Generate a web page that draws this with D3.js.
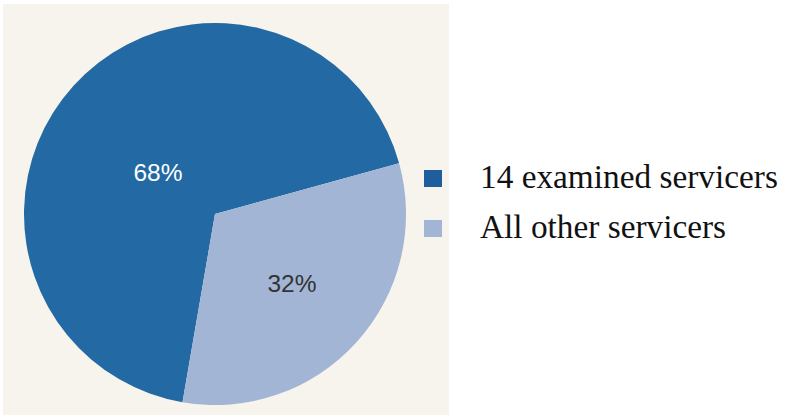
<!DOCTYPE html>
<html lang="en">
<head>
    <meta charset="UTF-8">
    <title>Share of servicers</title>
    <script src="https://d3js.org/d3.v7.min.js"></script>
    <style>
        body {
            margin: 0;
            padding: 0;
            background-color: #ffffff;
        }
        svg {
            display: block;
        }
    </style>
</head>
<body>
    <svg width="786" height="417"></svg>
    <script>
        // Chart data
        const categories = ["14 examined servicers", "All other servicers"];
        const values = [68, 32];
        const labels = ["68%", "32%"];
        const sliceColors = ["#2369a3", "#a3b5d5"];
        const swatchColors = ["#1f5e9c", "#a3b5d5"];
        const labelColors = ["#ffffff", "#333333"];

        const svg = d3.select("svg");

        // Beige panel behind the pie
        svg.append("rect")
            .attr("x", 3)
            .attr("y", 4)
            .attr("width", 446)
            .attr("height", 411)
            .attr("fill", "#f7f3ed");

        const cx = 215, cy = 214, radius = 191;
        const start = 189.8 * Math.PI / 180;

        const pie = d3.pie()
            .sort(null)
            .value(d => d)
            .startAngle(start)
            .endAngle(start + 2 * Math.PI);

        const arc = d3.arc().innerRadius(0).outerRadius(radius);

        const arcs = pie(values);
        const g = svg.append("g").attr("transform", `translate(${cx},${cy})`);

        g.selectAll("path")
            .data(arcs)
            .enter().append("path")
            .attr("d", arc)
            .attr("fill", (d, i) => sliceColors[i]);

        // Percentage labels
        const labelArc = d3.arc().innerRadius(radius * 0.62).outerRadius(radius * 0.62);
        g.selectAll(".pct")
            .data(arcs)
            .enter().append("text")
            .attr("class", "pct")
            .attr("x", (d, i) => i === 0 ? -57 : 77)
            .attr("y", (d, i) => i === 0 ? -33 : 78)
            .attr("text-anchor", "middle")
            .attr("font-family", "Arial, 'Liberation Sans', sans-serif")
            .attr("font-size", 24.5)
            .attr("fill", (d, i) => labelColors[i])
            .text((d, i) => labels[i]);

        // Legend
        const legend = svg.append("g").attr("transform", "translate(424,170)");
        const rows = legend.selectAll("g")
            .data(categories)
            .enter().append("g")
            .attr("transform", (d, i) => `translate(0,${i * 50})`);

        rows.append("rect")
            .attr("width", 18)
            .attr("height", 17)
            .attr("fill", (d, i) => swatchColors[i]);

        const txt = rows.append("text")
            .attr("x", 56)
            .attr("y", 18)
            .attr("font-family", "'Liberation Serif', 'DejaVu Serif', serif")
            .attr("font-size", 31)
            .attr("fill", "#111")
            .text(d => d);

        // scale legend font so the first line spans roughly 298px
        const w = txt.node().getComputedTextLength();
        txt.attr("font-size", 31 * 298 / w);
    </script>
</body>
</html>
